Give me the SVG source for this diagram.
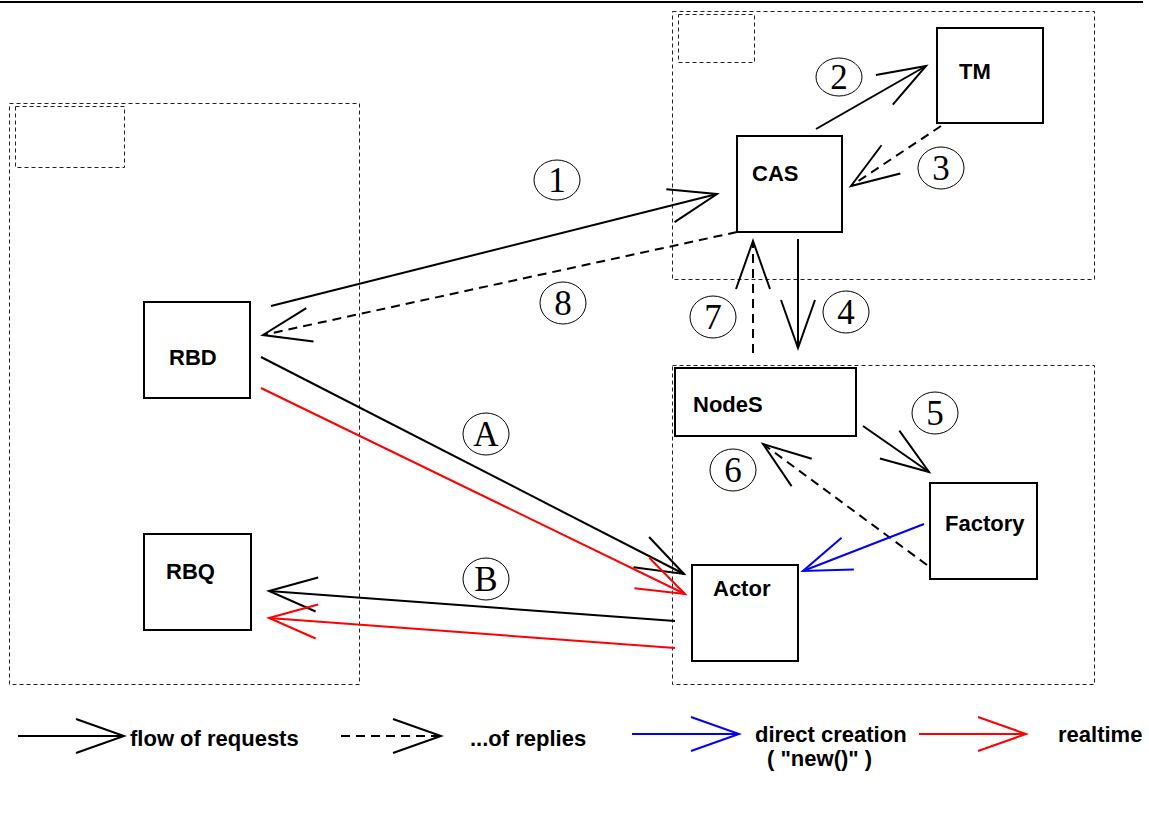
<svg xmlns="http://www.w3.org/2000/svg" width="1149" height="814" viewBox="0 0 1149 814">
  <style>
    .frame { fill: none; stroke: #222; stroke-width: 1; stroke-dasharray: 4 3; }
    .node rect { fill: #fff; stroke: #000; stroke-width: 2; }
    .node text, .legend text { font-family: "Liberation Sans", Arial, sans-serif; font-weight: bold; font-size: 22px; fill: #000; }
    .conn { fill: none; stroke-width: 2; }
    .req { stroke: #000; marker-end: url(#head-black); }
    .rep { stroke: #000; stroke-dasharray: 9 6; marker-end: url(#head-black); }
    .rt { stroke: #f00; marker-end: url(#head-red); }
    .new { stroke: #00f; marker-end: url(#head-blue); }
    .step ellipse { fill: none; stroke: #000; stroke-width: 1; }
    .step text { font-family: "Liberation Serif", "Times New Roman", serif; font-size: 35px; text-anchor: middle; fill: #000; }
  </style>
  <defs>
    <marker id="head-black" markerUnits="userSpaceOnUse" orient="auto" refX="0" refY="0" overflow="visible">
      <path d="M -48 -17 L 0 0 L -48 17" fill="none" stroke="#000" stroke-width="2" stroke-dasharray="none"/>
    </marker>
    <marker id="head-red" markerUnits="userSpaceOnUse" orient="auto" refX="0" refY="0" overflow="visible">
      <path d="M -48 -17 L 0 0 L -48 17" fill="none" stroke="#f00" stroke-width="2" stroke-dasharray="none"/>
    </marker>
    <marker id="head-blue" markerUnits="userSpaceOnUse" orient="auto" refX="0" refY="0" overflow="visible">
      <path d="M -48 -17 L 0 0 L -48 17" fill="none" stroke="#00f" stroke-width="2" stroke-dasharray="none"/>
    </marker>
  </defs>

  <rect width="1149" height="814" fill="#fff"/>
  <line x1="0" y1="2" x2="1143" y2="2" stroke="#000" stroke-width="2"/>

  <!-- process frames -->
  <g id="frames">
    <rect class="frame" x="672.5" y="11.5" width="422" height="268"/>
    <rect class="frame" x="678.5" y="14.5" width="76" height="48"/>
    <rect class="frame" x="9.5" y="103.5" width="350" height="581"/>
    <rect class="frame" x="15.5" y="106.5" width="109" height="61"/>
    <rect class="frame" x="672.5" y="365.5" width="422" height="319"/>
  </g>

  <!-- connectors -->
  <g id="connectors">
    <path class="conn req" d="M271 306 L717 194"/>
    <path class="conn req" d="M816 129 L926 66"/>
    <path class="conn rep" d="M941 126 L851 186"/>
    <path class="conn rep" d="M737 232 L263 335"/>
    <path class="conn rep" d="M753 353 L753 241"/>
    <path class="conn req" d="M798 239 L798 348"/>
    <path class="conn req" d="M863 426 L929 472"/>
    <path class="conn rep" d="M927 565 L763 444"/>
    <path class="conn new" d="M924 524 L803 571"/>
    <path class="conn req" d="M261 357 L684 574"/>
    <path class="conn rt" d="M261 388 L685 594"/>
    <path class="conn req" d="M675 621 L269 591"/>
    <path class="conn rt" d="M675 648 L269 618"/>
  </g>

  <!-- nodes -->
  <g id="node-tm" class="node"><rect x="937" y="28" width="106" height="95"/><text x="959" y="79">TM</text></g>
  <g id="node-cas" class="node"><rect x="737" y="136" width="105" height="96"/><text x="752" y="181">CAS</text></g>
  <g id="node-rbd" class="node"><rect x="144" y="302" width="106" height="96"/><text x="169" y="365">RBD</text></g>
  <g id="node-rbq" class="node"><rect x="144" y="534" width="107" height="96"/><text x="166" y="579">RBQ</text></g>
  <g id="node-nodes" class="node"><rect x="675" y="368" width="181" height="68"/><text x="693" y="412">NodeS</text></g>
  <g id="node-factory" class="node"><rect x="930" y="483" width="107" height="96"/><text x="945" y="531">Factory</text></g>
  <g id="node-actor" class="node"><rect x="692" y="565" width="106" height="96"/><text x="713" y="596">Actor</text></g>

  <!-- step labels -->
  <g id="steps" class="step">
    <ellipse cx="557" cy="180" rx="23" ry="20"/><text x="557" y="192">1</text>
    <ellipse cx="839" cy="77" rx="23" ry="19"/><text x="839" y="89">2</text>
    <ellipse cx="941" cy="168" rx="23" ry="21"/><text x="941" y="180">3</text>
    <ellipse cx="846" cy="312" rx="23" ry="21"/><text x="846" y="324">4</text>
    <ellipse cx="935" cy="413" rx="23" ry="21"/><text x="935" y="425">5</text>
    <ellipse cx="733" cy="470" rx="23" ry="21"/><text x="733" y="482">6</text>
    <ellipse cx="713" cy="317" rx="23" ry="21"/><text x="713" y="329">7</text>
    <ellipse cx="563" cy="303" rx="23" ry="21"/><text x="563" y="315">8</text>
    <ellipse cx="486" cy="434" rx="23" ry="21"/><text x="486" y="446">A</text>
    <ellipse cx="486" cy="579" rx="23" ry="21"/><text x="486" y="591">B</text>
  </g>

  <!-- legend -->
  <g id="legend" class="legend">
    <path class="conn req" d="M18 736 L124 736"/>
    <text x="130" y="746">flow of requests</text>
    <path class="conn rep" d="M341 736 L441 736"/>
    <text x="470" y="746">...of replies</text>
    <path class="conn new" d="M632 734 L739 734"/>
    <text x="755" y="742">direct creation</text>
    <text x="767" y="766">( "new()" )</text>
    <path class="conn rt" d="M919 734 L1026 734"/>
    <text x="1058" y="742">realtime</text>
  </g>
</svg>
